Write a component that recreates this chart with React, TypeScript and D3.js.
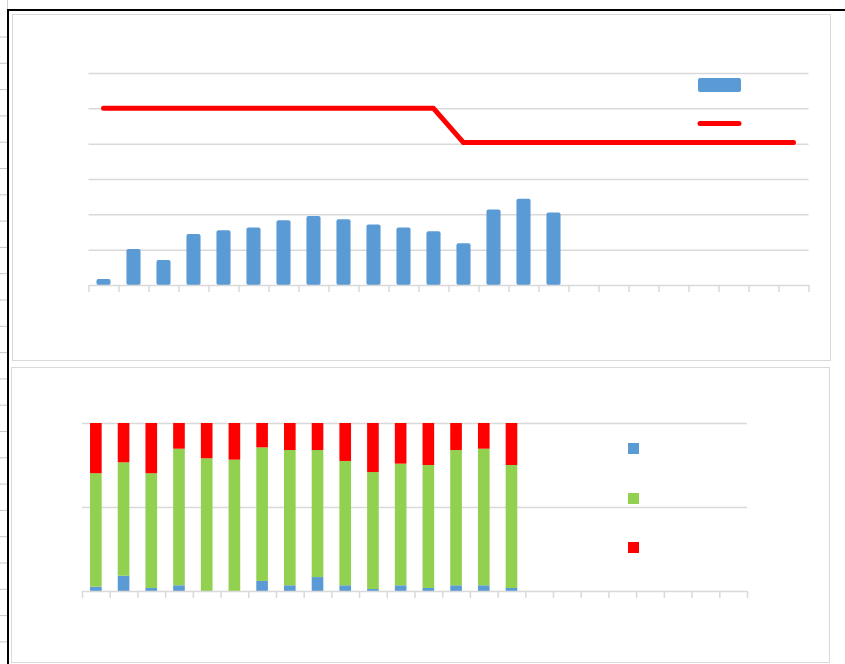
import * as d3 from "d3";
import { useEffect, useRef } from "react";

// 24 category slots, only the first 16 have data
const categories = [
  "1", "2", "3", "4", "5", "6", "7", "8", "9", "10", "11", "12",
  "13", "14", "15", "16", "17", "18", "19", "20", "21", "22", "23", "24",
];
const countValues = [1.7, 10.2, 7.1, 14.4, 15.5, 16.3, 18.3, 19.5, 18.6, 17.1, 16.3, 15.2, 11.8, 21.4, 24.4, 20.5];
const limitValues = [50, 50, 50, 50, 50, 50, 50, 50, 50, 50, 50, 50, 40.3, 40.3, 40.3, 40.3, 40.3, 40.3, 40.3, 40.3, 40.3, 40.3, 40.3, 40.3];
const topTicks = [0, 10, 20, 30, 40, 50, 60];

const shareBlue = [2.6, 9.1, 1.8, 3.4, 0, 0, 6.0, 3.4, 8.3, 3.4, 1.2, 3.4, 1.8, 3.4, 3.4, 1.8];
const shareGreen = [67.5, 67.5, 68.3, 81.3, 79.0, 78.2, 79.5, 80.5, 75.6, 74.0, 69.6, 72.4, 73.2, 80.5, 81.3, 73.2];
const shareRed = [29.9, 23.4, 29.9, 15.3, 21.0, 21.8, 14.5, 16.1, 16.1, 22.6, 29.2, 24.2, 25.0, 16.1, 15.3, 25.0];
const bottomTicks = [0, 50, 100];

const BLUE = "#5B9BD5";
const GREEN = "#92D050";
const RED = "#FF0000";
const GRID = "#D9D9D9";

const App = () => {
  const ref = useRef<SVGSVGElement>(null);

  useEffect(() => {
    const svg = d3.select(ref.current);
    svg.selectAll("*").remove();

    // sheet background: row marks on the left and the black frame
    svg.append("g")
      .selectAll("line")
      .data(d3.range(0, 24))
      .enter()
      .append("line")
      .attr("x1", 0)
      .attr("x2", 7)
      .attr("y1", (i) => 37 + i * 26.3)
      .attr("y2", (i) => 37 + i * 26.3)
      .attr("stroke", "#C8C8C8")
      .attr("stroke-width", 1);
    svg.append("line").attr("x1", 7.5).attr("x2", 7.5).attr("y1", 0).attr("y2", 9)
      .attr("stroke", "#D0D0D0");
    svg.append("path")
      .attr("d", "M8,664 L8,10 L845,10")
      .attr("fill", "none")
      .attr("stroke", "#000")
      .attr("stroke-width", 2);

    // chart panels
    svg.append("rect").attr("x", 12.5).attr("y", 14.5).attr("width", 818).attr("height", 346)
      .attr("fill", "#fff").attr("stroke", GRID);
    svg.append("rect").attr("x", 11.5).attr("y", 367.5).attr("width", 818).attr("height", 295)
      .attr("fill", "#fff").attr("stroke", GRID);

    // ---------- top chart ----------
    const x1 = d3.scaleBand().domain(categories).range([88.5, 808.5]).paddingInner(0.53).paddingOuter(0.265);
    const x1Edge = d3.scaleLinear().domain([0, 24]).range([88.5, 808.5]);
    const y1 = d3.scaleLinear().domain([0, 60]).range([285, 73]);

    svg.append("g")
      .attr("transform", "translate(88.5,0)")
      .call(d3.axisLeft(y1).tickValues(topTicks.slice(1)).tickSize(-720).tickFormat(() => ""))
      .call((g) => g.select(".domain").remove())
      .call((g) => g.selectAll(".tick line").attr("stroke", GRID).attr("stroke-width", 1.5));

    svg.append("g")
      .selectAll("rect")
      .data(countValues)
      .enter()
      .append("rect")
      .attr("x", (d, i) => x1(categories[i]))
      .attr("y", (d) => y1(d))
      .attr("width", x1.bandwidth())
      .attr("height", (d) => y1(0) - y1(d))
      .attr("rx", 2)
      .attr("fill", BLUE);

    svg.append("g")
      .attr("transform", "translate(0,285)")
      .call(d3.axisBottom(x1Edge).tickValues(d3.range(0, 25)).tickSize(7).tickSizeOuter(0).tickFormat(() => ""))
      .call((g) => g.select(".domain").attr("stroke", GRID).attr("stroke-width", 1.5))
      .call((g) => g.selectAll(".tick line").attr("stroke", GRID).attr("stroke-width", 1.5));

    const line = d3.line<number>()
      .x((d, i) => x1(categories[i]) + x1.bandwidth() / 2)
      .y((d) => y1(d));
    svg.append("path")
      .datum(limitValues)
      .attr("d", line)
      .attr("fill", "none")
      .attr("stroke", RED)
      .attr("stroke-width", 5)
      .attr("stroke-linecap", "round")
      .attr("stroke-linejoin", "round");

    // legend (no labels)
    svg.append("rect").attr("x", 698).attr("y", 78).attr("width", 43).attr("height", 14)
      .attr("rx", 2).attr("fill", BLUE);
    svg.append("line").attr("x1", 700).attr("x2", 739).attr("y1", 123.5).attr("y2", 123.5)
      .attr("stroke", RED).attr("stroke-width", 5).attr("stroke-linecap", "round");

    // ---------- bottom chart ----------
    const x2 = d3.scaleBand().domain(categories).range([82, 747]).paddingInner(0.58).paddingOuter(0.29);
    const x2Edge = d3.scaleLinear().domain([0, 24]).range([82, 747]);
    const y2 = d3.scaleLinear().domain([0, 100]).range([591, 423]);

    svg.append("g")
      .attr("transform", "translate(82,0)")
      .call(d3.axisLeft(y2).tickValues(bottomTicks.slice(1)).tickSize(-665).tickFormat(() => ""))
      .call((g) => g.select(".domain").remove())
      .call((g) => g.selectAll(".tick line").attr("stroke", GRID).attr("stroke-width", 1.5));

    const rows = shareBlue.map((b, i) => ({ cat: categories[i], blue: b, green: shareGreen[i], red: shareRed[i] }));
    const stacked = d3.stack<any>().keys(["blue", "green", "red"])(rows);
    const colors = { blue: BLUE, green: GREEN, red: RED };

    svg.append("g")
      .selectAll("g")
      .data(stacked)
      .enter()
      .append("g")
      .attr("fill", (s) => colors[s.key])
      .selectAll("rect")
      .data((s) => s)
      .enter()
      .append("rect")
      .attr("x", (d) => x2(d.data.cat))
      .attr("y", (d) => y2(d[1]))
      .attr("width", x2.bandwidth())
      .attr("height", (d) => y2(d[0]) - y2(d[1]));

    svg.append("g")
      .attr("transform", "translate(0,591)")
      .call(d3.axisBottom(x2Edge).tickValues(d3.range(0, 25)).tickSize(7).tickSizeOuter(0).tickFormat(() => ""))
      .call((g) => g.select(".domain").attr("stroke", GRID).attr("stroke-width", 1.5))
      .call((g) => g.selectAll(".tick line").attr("stroke", GRID).attr("stroke-width", 1.5));

    // legend squares (no labels)
    svg.append("g")
      .selectAll("rect")
      .data([BLUE, GREEN, RED])
      .enter()
      .append("rect")
      .attr("x", 628)
      .attr("y", (d, i) => [443, 493, 542][i])
      .attr("width", 11)
      .attr("height", 11)
      .attr("fill", (d) => d);
  }, []);

  return (
    <div style={{ position: "absolute", left: 0, top: 0 }}>
      <svg ref={ref} width={845} height={664} style={{ display: "block", background: "#fff" }} />
    </div>
  );
};

export default App;
